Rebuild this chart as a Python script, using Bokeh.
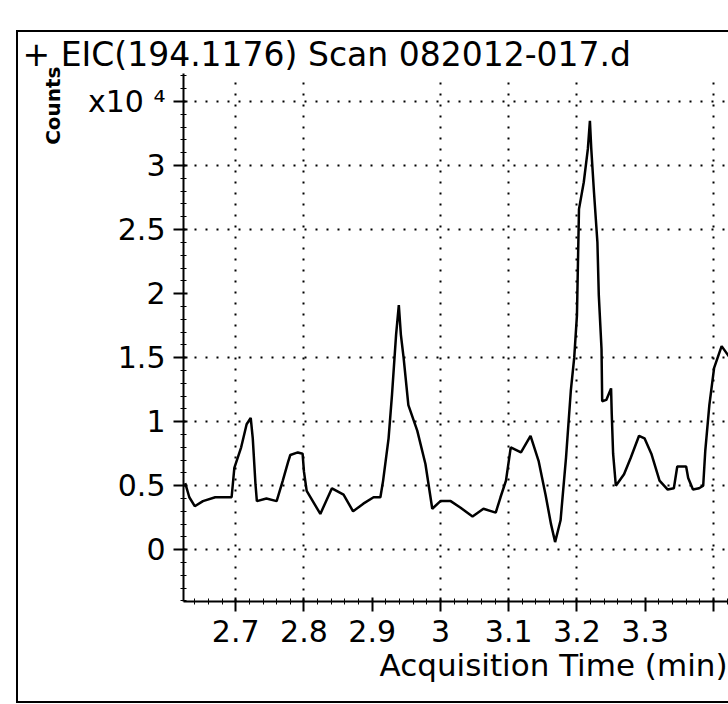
import numpy as np
from bokeh.plotting import figure
from bokeh.models import FixedTicker, Title, ColumnDataSource, Range1d
from bokeh.embed import file_html
from bokeh.resources import INLINE

# Acquisition time (min) and counts (x10^4)
times = [2.626, 2.632, 2.640, 2.652, 2.670, 2.694, 2.698, 2.708, 2.716, 2.722,
         2.725, 2.729, 2.731, 2.745, 2.760, 2.769, 2.777, 2.780, 2.791, 2.798,
         2.800, 2.804, 2.824, 2.841, 2.858, 2.872, 2.887, 2.902, 2.912, 2.916,
         2.924, 2.929, 2.935, 2.939, 2.942, 2.946, 2.953, 2.966, 2.978, 2.988,
         3.000, 3.015, 3.029, 3.047, 3.063, 3.081, 3.088, 3.096, 3.103, 3.118,
         3.132, 3.144, 3.154, 3.162, 3.168, 3.176, 3.184, 3.191, 3.196, 3.200,
         3.203, 3.210, 3.216, 3.219, 3.221, 3.225, 3.230, 3.232, 3.236, 3.237,
         3.243, 3.250, 3.251, 3.253, 3.257, 3.269, 3.279, 3.291, 3.299, 3.309,
         3.321, 3.333, 3.342, 3.347, 3.360, 3.363, 3.370, 3.379, 3.385, 3.388,
         3.394, 3.401, 3.412, 3.424]
counts = [0.52, 0.41, 0.34, 0.38, 0.41, 0.41, 0.64, 0.80, 0.98, 1.03,
          0.87, 0.51, 0.38, 0.40, 0.38, 0.54, 0.69, 0.74, 0.76, 0.75,
          0.61, 0.46, 0.28, 0.48, 0.43, 0.30, 0.36, 0.41, 0.41, 0.54,
          0.87, 1.21, 1.68, 1.91, 1.68, 1.50, 1.13, 0.93, 0.67, 0.32,
          0.38, 0.38, 0.33, 0.26, 0.32, 0.29, 0.41, 0.54, 0.80, 0.76,
          0.89, 0.69, 0.43, 0.20, 0.06, 0.23, 0.72, 1.24, 1.50, 1.83,
          2.66, 2.87, 3.13, 3.35, 3.13, 2.79, 2.40, 1.99, 1.57, 1.16,
          1.17, 1.26, 1.06, 0.75, 0.50, 0.59, 0.72, 0.89, 0.87, 0.75,
          0.54, 0.47, 0.48, 0.65, 0.65, 0.56, 0.47, 0.48, 0.50, 0.77,
          1.13, 1.42, 1.59, 1.50]

x_ticks = [2.7, 2.8, 2.9, 3.0, 3.1, 3.2, 3.3, 3.4]
x_grid = [2.7, 2.8, 3.0, 3.1, 3.2, 3.4]
y_ticks = [0, 0.5, 1, 1.5, 2, 2.5, 3, 3.5]
y_grid = [0, 0.5, 1, 1.5, 2.5, 3, 3.5]

title_text = "+ EIC(194.1176) Scan 082012-017.d"
x_label = "Acquisition Time (min)"
y_label = "Counts"
y_scale_label = "x10 \u2074"

FONT = "DejaVu Sans"

p = figure(width=712, height=673, output_backend="svg", toolbar_location=None,
           x_range=Range1d(2.6235, 3.425), y_range=Range1d(-0.404, 3.719),
           min_border_left=165, min_border_right=0, min_border_top=37,
           min_border_bottom=104, outline_line_color=None,
           margin=(30, 0, 0, 16))
p.styles = {"border-left": "2px solid black", "border-top": "2px solid black",
            "border-bottom": "2px solid black", "border-right": "none"}

src = ColumnDataSource(dict(t=times, c=counts))
p.line("t", "c", source=src, line_color="black", line_width=2.5)

# axes
xa = p.xaxis[0]
xa.ticker = FixedTicker(ticks=x_ticks, minor_ticks=list(np.round(np.arange(2.62, 3.43, 0.02), 3)))
xa.major_label_overrides = {3.4: ""}
ya = p.yaxis[0]
ya.ticker = FixedTicker(ticks=y_ticks, minor_ticks=list(np.round(np.arange(-0.4, 3.71, 0.1), 2)))
ya.major_label_overrides = {3.5: y_scale_label}
for ax in (xa, ya):
    ax.axis_line_width = 2
    ax.axis_line_color = "black"
    ax.major_tick_line_color = "black"
    ax.major_tick_line_width = 2
    ax.minor_tick_line_color = "black"
    ax.major_tick_in = 4
    ax.major_tick_out = 10
    ax.minor_tick_in = 3
    ax.minor_tick_out = 3
    ax.major_label_text_font = FONT
    ax.major_label_text_font_size = "30px"
    ax.major_label_text_color = "black"
    ax.major_label_standoff = 8

# grids
p.xgrid.ticker = FixedTicker(ticks=x_grid)
p.ygrid.ticker = FixedTicker(ticks=y_grid)
for g in (p.xgrid[0], p.ygrid[0]):
    g.grid_line_color = "black"
    g.grid_line_width = 2
    g.grid_line_dash = "2 9"

# texts
p.title.text = title_text
p.title.align = "left"
p.title.offset = -161
p.title.standoff = 0
p.title.text_font = FONT
p.title.text_font_size = "33px"
p.title.text_font_style = "normal"
p.title.text_color = "black"

p.add_layout(Title(text=y_label, align="right", vertical_align="top", standoff=38,
                   offset=-7, text_font=FONT, text_font_size="20px",
                   text_font_style="bold", text_color="black"), "left")
p.add_layout(Title(text=x_label, align="right", standoff=0, offset=3, text_font=FONT,
                   text_font_size="31px", text_font_style="normal",
                   text_color="black"), "below")

open("out.html", "w").write(file_html(p, INLINE))
